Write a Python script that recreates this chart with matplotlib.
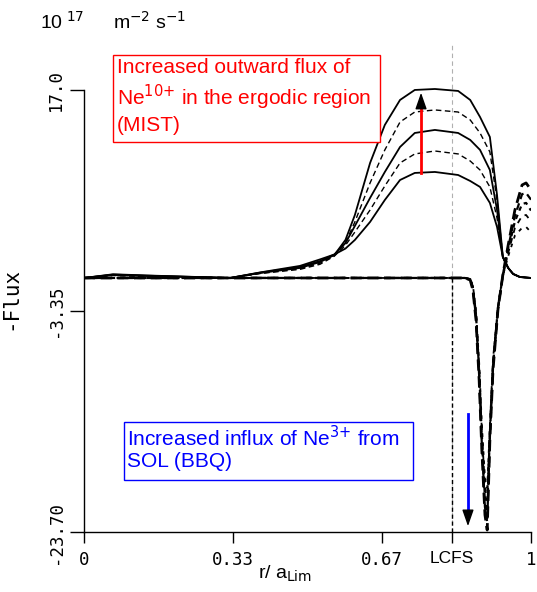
import matplotlib
matplotlib.use("Agg")
import matplotlib.pyplot as plt
from matplotlib.patches import Rectangle

# ---------------- data ----------------
# outward flux curves (upper group)
x_out = [0.0, 0.065, 0.141, 0.327, 0.394, 0.483, 0.528, 0.560, 0.585, 0.606, 0.640,
         0.673, 0.707, 0.740, 0.785, 0.837, 0.864, 0.886, 0.908, 0.924, 0.937,
         0.949, 0.960, 0.975, 1.0]
out_1 = [-0.31, -0.03, -0.13, -0.31, 0.15, 0.61, 1.16, 1.80, 3.20, 5.49, 10.28,
         13.78, 16.08, 17.00, 17.09, 16.91, 16.08, 14.51, 12.67, 7.33, 1.62,
         0.61, 0.06, -0.22, -0.31]
out_2 = [-0.31, -0.05, -0.15, -0.31, 0.12, 0.55, 1.05, 1.75, 2.95, 4.85, 8.44,
         11.48, 14.05, 14.97, 15.16, 14.97, 14.24, 13.04, 11.29, 6.87, 1.62,
         0.61, 0.06, -0.22, -0.31]
out_3 = [-0.31, 0.00, -0.10, -0.31, 0.18, 0.70, 1.25, 1.85, 2.90, 4.48, 7.06,
         9.45, 11.75, 13.04, 13.32, 13.04, 12.40, 11.48, 9.63, 5.95, 1.62,
         0.61, 0.06, -0.22, -0.31]
out_4 = [-0.31, -0.08, -0.18, -0.31, 0.10, 0.48, 0.95, 1.70, 2.70, 3.92, 5.95,
         8.16, 10.28, 11.11, 11.38, 11.11, 10.46, 9.63, 8.07, 5.21, 1.62,
         0.61, 0.06, -0.22, -0.31]
out_5 = [-0.31, 0.03, -0.08, -0.31, 0.20, 0.80, 1.40, 1.85, 2.40, 3.19, 4.85,
         6.87, 8.71, 9.36, 9.45, 9.17, 8.62, 8.07, 6.60, 4.39, 1.62,
         0.61, 0.06, -0.22, -0.31]

# influx curves (lower group)
x_in = [0.0, 0.830, 0.852, 0.864, 0.870, 0.877, 0.884, 0.890, 0.897, 0.902,
        0.908, 0.915, 0.926, 0.937, 0.949, 0.964, 0.980, 0.989, 1.0]
in_1 = [-0.31, -0.31, -0.31, -0.50, -1.42, -4.18, -9.70, -16.15, -22.13, -23.52,
        -15.23, -8.78, -3.26, -0.03, 2.73, 5.95, 8.25, 8.44, 7.79]
in_2 = [-0.31, -0.31, -0.31, -0.45, -1.30, -3.90, -9.30, -15.60, -21.40, -22.78,
        -15.00, -8.60, -3.20, -0.05, 2.50, 5.40, 7.40, 7.52, 6.90]
in_3 = [-0.31, -0.31, -0.31, -0.42, -1.20, -3.70, -8.90, -15.00, -20.60, -21.86,
        -14.70, -8.40, -3.10, -0.08, 2.30, 4.90, 6.50, 6.60, 5.90]
in_4 = [-0.31, -0.31, -0.31, -0.40, -1.10, -3.50, -8.50, -14.40, -19.60, -20.75,
        -14.30, -8.10, -3.00, -0.10, 2.00, 4.30, 5.40, 5.49, 4.90]
in_5 = [-0.31, -0.31, -0.31, -0.38, -1.00, -3.30, -8.10, -13.80, -18.70, -19.65,
        -13.90, -7.80, -2.90, -0.12, 1.70, 3.60, 4.30, 4.39, 3.90]

x_ticks = [0.0, 0.333, 0.667, 0.823, 1.0]
x_ticklabels = ["0", "0.33", "0.67", "LCFS", "1"]
y_ticks = [17.0, -3.35, -23.7]
y_ticklabels = ["17.0", "-3.35", "-23.70"]
lcfs = 0.823
baseline = -0.31

mist_arrow = (0.754, 9.36, 17.0)   # x, from, to
bbq_arrow = (0.859, -12.83, -23.42)

# ---------------- figure ----------------
fig = plt.figure(figsize=(5.37, 5.92), dpi=100)
W, H = 537, 592
ax = fig.add_axes([84 / W, 60 / H, 447 / W, 487 / H])
ax.set_xlim(0, 1)
ax.set_ylim(-23.70, 21.14)

# LCFS lines
ax.axvline(lcfs, color="#b0b0b0", lw=0.8, ls=(0, (4, 3)), zorder=1)
ax.plot([lcfs, lcfs], [baseline, -23.7], color="black", lw=1.0,
        ls=(0, (3, 2)), zorder=2)

# upper group
for ys, ls, lw in [(out_1, "-", 1.3), (out_2, (0, (4, 2.5)), 1.0),
                   (out_3, "-", 1.3), (out_4, (0, (4, 2.5)), 1.0),
                   (out_5, "-", 1.3)]:
    ax.plot(x_out, ys, color="black", ls=ls, lw=lw, zorder=3)

# lower group
for ys, ls, lw in [(in_1, (0, (4, 2)), 2.0), (in_2, (0, (3, 2)), 1.6),
                   (in_3, (0, (2, 2)), 1.6), (in_4, (0, (3, 3)), 1.3),
                   (in_5, (0, (2, 3)), 1.3)]:
    ax.plot(x_in, ys, color="black", ls=ls, lw=lw, zorder=3)

# arrows
xa, y0, y1 = mist_arrow
ax.plot([xa, xa], [y0, y1 - 1.3], color="red", lw=2.0, zorder=5)
ax.annotate("", xy=(xa, y1), xytext=(xa, y1 - 1.5),
            arrowprops=dict(arrowstyle="-|>,head_width=0.35,head_length=1.0",
                            color="black", lw=1.0), zorder=6)
xb, y0, y1 = bbq_arrow
ax.plot([xb, xb], [y0, y1 + 1.3], color="blue", lw=2.0, zorder=5)
ax.annotate("", xy=(xb, y1), xytext=(xb, y1 + 1.5),
            arrowprops=dict(arrowstyle="-|>,head_width=0.35,head_length=1.0",
                            color="black", lw=1.0), zorder=6)

# spines / ticks
for s in ("top", "right"):
    ax.spines[s].set_visible(False)
ax.spines["left"].set_bounds(-23.7, 17.0)
ax.spines["left"].set_linewidth(1.0)
ax.spines["bottom"].set_linewidth(1.0)

mono = "DejaVu Sans Mono"
ax.set_xticks(x_ticks)
ax.set_xticklabels(x_ticklabels)
for lab, txt in zip(ax.get_xticklabels(), x_ticklabels):
    lab.set_fontfamily("Liberation Sans" if txt == "LCFS" else mono)
    lab.set_fontsize(12.5)
ax.tick_params(axis="x", direction="out", length=8, width=1.0, pad=6)

ax.set_yticks(y_ticks)
ax.set_yticklabels(y_ticklabels, rotation=90, va="center",
                   fontfamily=mono, fontsize=12.5)
ax.set_yticks([baseline], minor=True)
ax.tick_params(axis="y", which="major", direction="out", length=10,
               width=1.0, pad=4)
ax.tick_params(axis="y", which="minor", direction="in", length=4, width=1.5)

ax.set_xlabel(r"r/ a$_{\mathrm{Lim}}$", fontfamily="Liberation Sans",
              fontsize=14, va="center")
ax.xaxis.set_label_coords((285 - 84) / 447, (532 - 574) / 487)
ax.set_ylabel("-Flux", fontfamily=mono, fontsize=15)
ax.yaxis.set_label_coords((20 - 84) / 447, (532 - 298) / 487)

# units
fig.text(40 / W, 1 - 22 / H, r"10$^{\ 17}$", fontfamily="Liberation Sans",
         fontsize=14, va="center", ha="left")
fig.text(113 / W, 1 - 22 / H, r"m$^{-2}$ s$^{-1}$",
         fontfamily="Liberation Sans", fontsize=14, va="center", ha="left")

# annotation boxes
fig.patches.append(Rectangle((113 / W, 1 - 142 / H), 267 / W, 87 / H,
                             transform=fig.transFigure, fill=True,
                             fc="white", ec="red", lw=1.0, zorder=4))
fig.text(117 / W, 1 - 58 / H,
         "Increased outward flux of\n"
         r"Ne$^{\text{10+}}$ in the ergodic region" "\n(MIST)",
         color="red", fontfamily="Liberation Sans", fontsize=15,
         va="top", ha="left", linespacing=1.25, zorder=5)

fig.patches.append(Rectangle((124 / W, 1 - 480 / H), 289 / W, 58 / H,
                             transform=fig.transFigure, fill=True,
                             fc="white", ec="blue", lw=1.0, zorder=4))
fig.text(127 / W, 1 - 425 / H,
         r"Increased influx of Ne$^{\text{3+}}$ from" "\nSOL (BBQ)",
         color="blue", fontfamily="Liberation Sans", fontsize=15,
         va="top", ha="left", linespacing=1.15, zorder=5)

fig.savefig("out.png", dpi=100)
